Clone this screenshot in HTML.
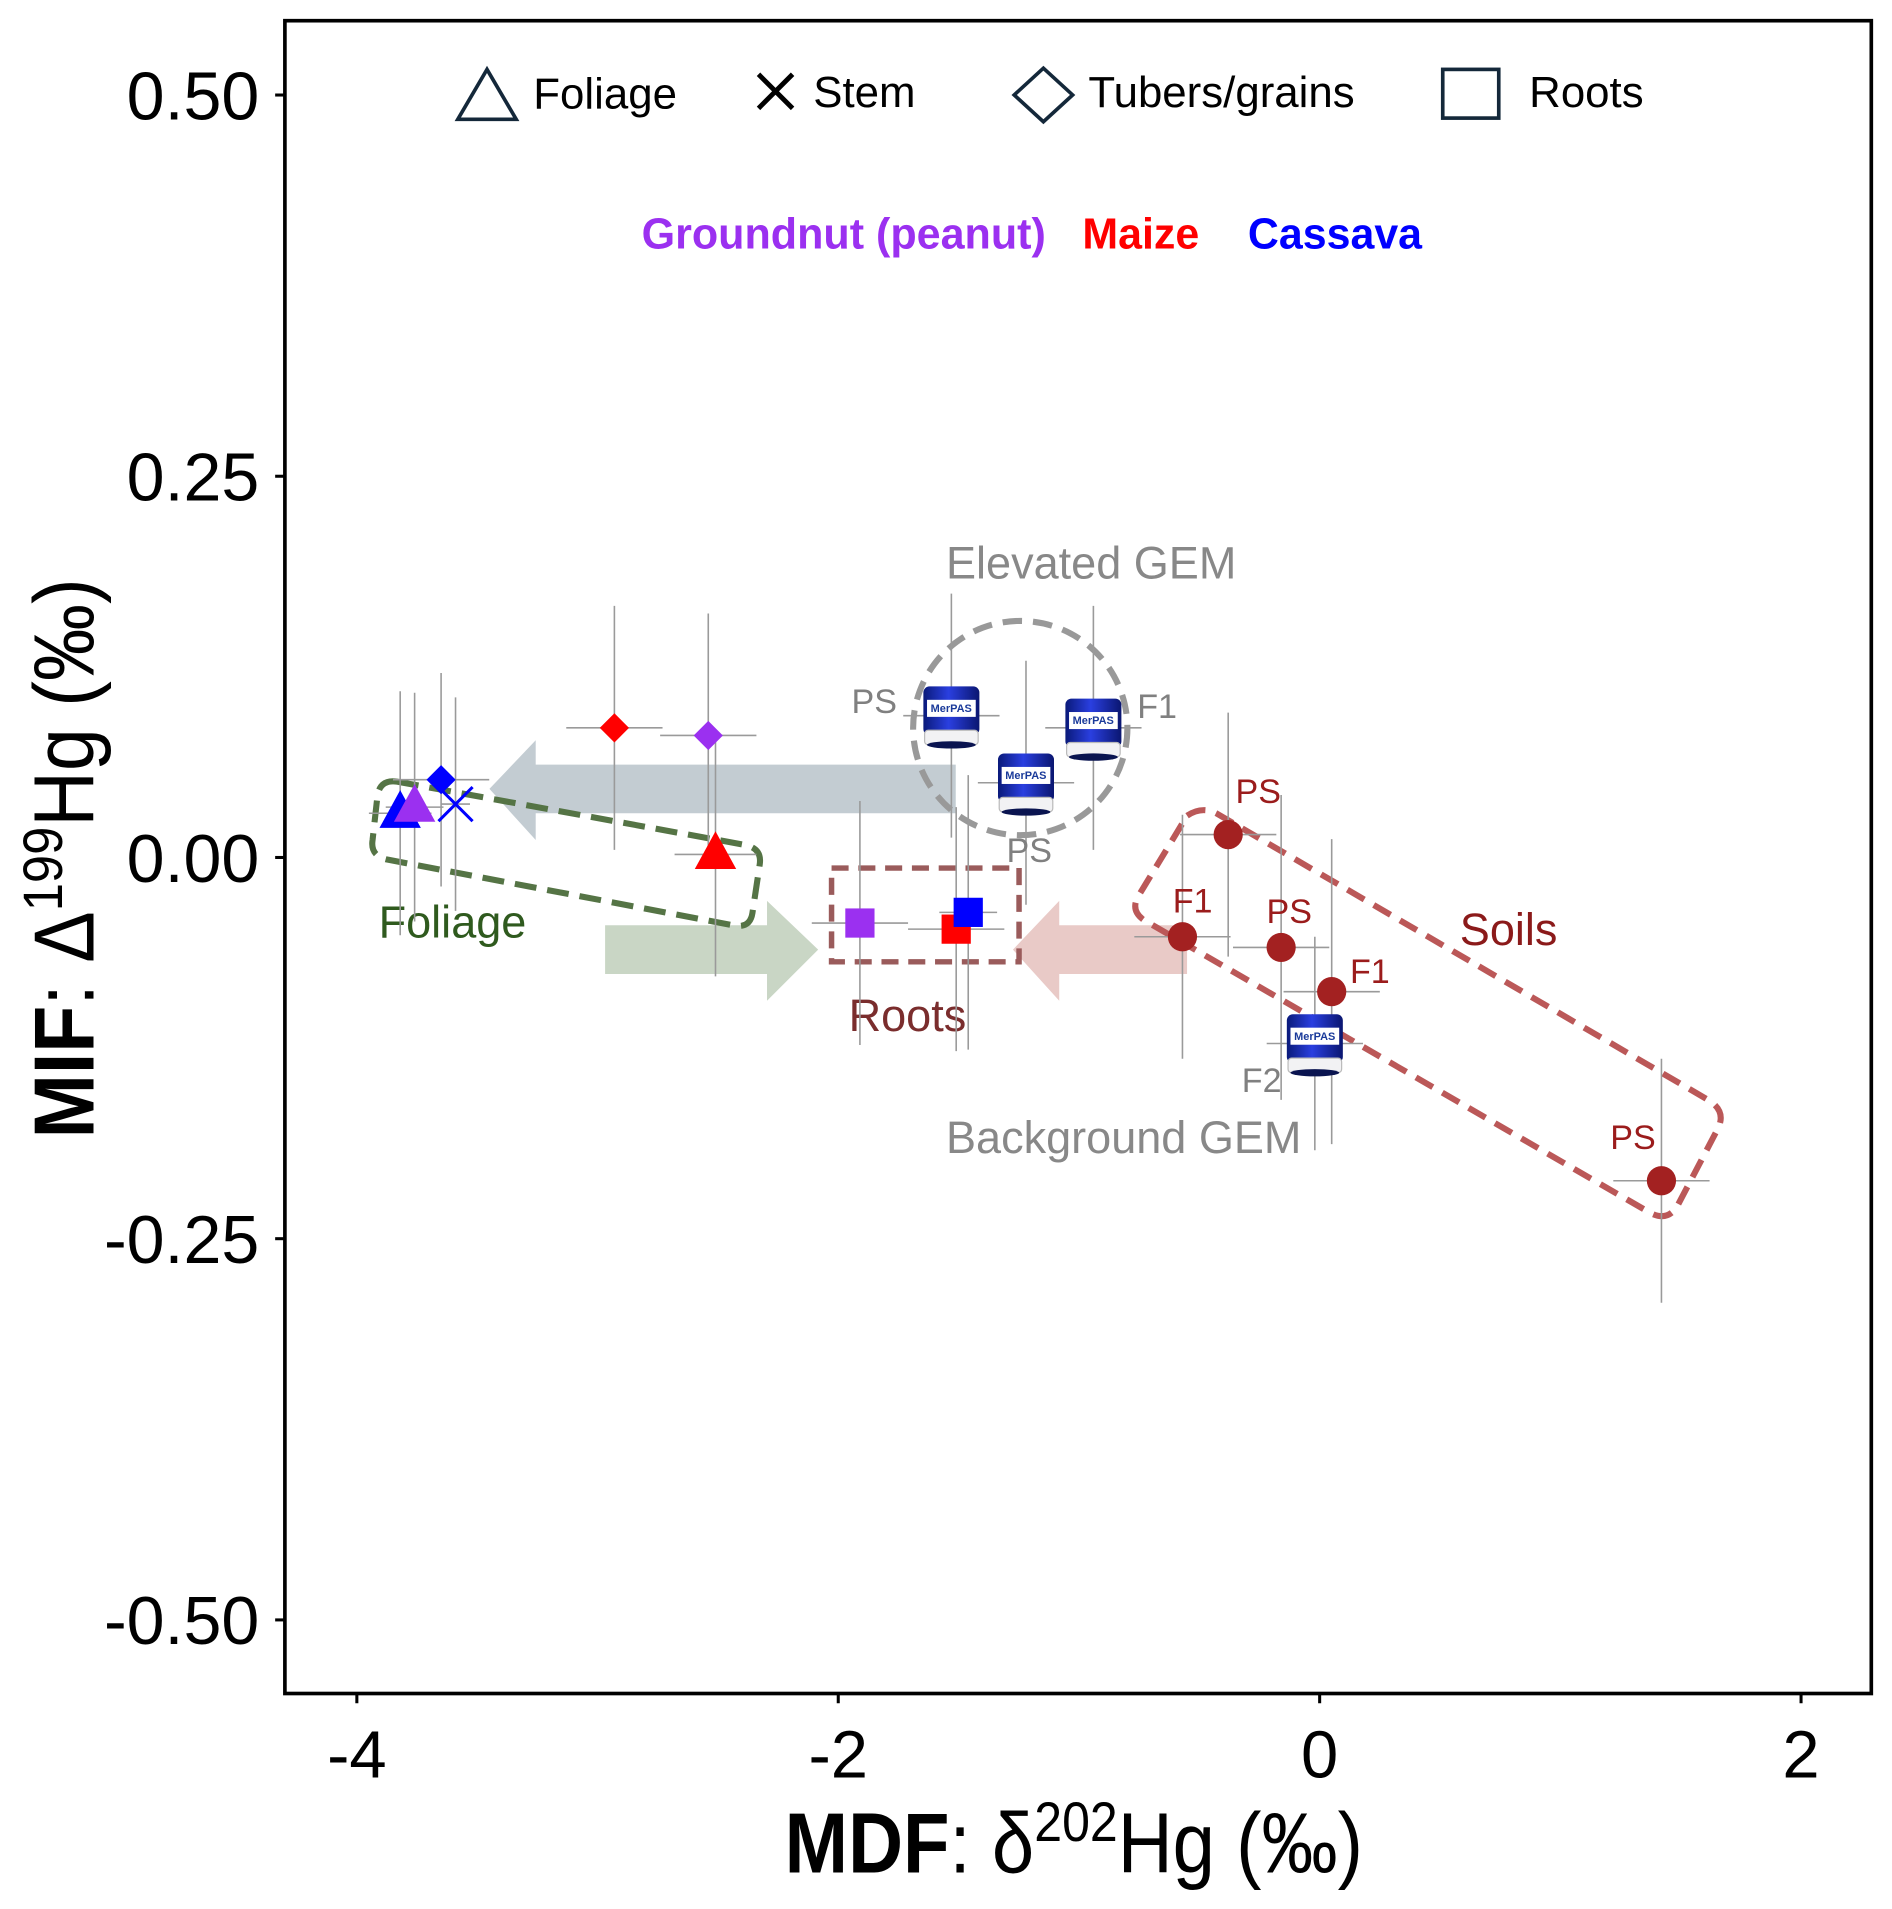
<!DOCTYPE html>
<html><head><meta charset="utf-8"><style>
html,body{margin:0;padding:0;background:#fff;}
svg{display:block;}
text{font-family:"Liberation Sans",sans-serif;}
</style></head><body>
<svg id="chart" width="1892" height="1909" viewBox="0 0 1554 1568" preserveAspectRatio="none" xmlns="http://www.w3.org/2000/svg">
<defs>
<linearGradient id="can" x1="0" x2="1" y1="0" y2="0">
<stop offset="0" stop-color="#0a1a7a"/><stop offset="0.45" stop-color="#2a3fe0"/><stop offset="1" stop-color="#0a1670"/>
</linearGradient>
</defs>
<rect x="0" y="0" width="1554" height="1568" fill="#fff"/>
<g id="decor">
<polygon points="785,628 440,628 440,608 402,648 440,690 440,668 785,668" fill="#c3ccd2"/>
<polygon points="497,760 630,760 630,740 672,780 630,822 630,800 497,800" fill="#c9d6c5"/>
<polygon points="975,760 870,760 870,740 832,780 870,822 870,800 975,800" fill="#e9cac7"/>
<path d="M326,642 L612,694 Q626,697 624,710 L618,750 Q616,763 602,760 L318,706 Q304,703 306,690 L310,654 Q312,640 326,642 Z" fill="none" stroke="#557445" stroke-width="5" stroke-dasharray="18 9"/>
<rect x="683" y="713" width="154" height="77" fill="none" stroke="#9a5b5b" stroke-width="4.5" stroke-dasharray="14 8"/>
<path d="M975,670 Q987,662 999,668 L1404,904 Q1418,913 1411,927 L1378,990 Q1370,1004 1355,996 L940,756 Q928,748 935,736 Z" fill="none" stroke="#bb5858" stroke-width="5" stroke-dasharray="16 9"/>
<circle cx="838" cy="598" r="88" fill="none" stroke="#999" stroke-width="5" stroke-dasharray="16 9"/>
<text x="311" y="770" font-size="37" fill="#2f5a1e">Foliage</text>
<text x="697" y="847" font-size="37" fill="#7a2d2d">Roots</text>
<text x="1199" y="776" font-size="37" fill="#8b1a1a">Soils</text>
<text x="777" y="475" font-size="37" fill="#888">Elevated GEM</text>
<text x="777" y="947" font-size="37" fill="#888">Background GEM</text>
</g>
<g id="marks"></g>
<g id="frame">
<rect x="234" y="17" width="1303" height="1374" fill="none" stroke="#000" stroke-width="3"/>
</g>
<g id="axes"></g>
<g id="legend">
<polygon points="400,57 376,98 424,98" fill="none" stroke="#14283a" stroke-width="3"/>
<text x="438" y="89" font-size="36">Foliage</text>
<path d="M623,61 L651,89 M651,61 L623,89" stroke="#000" stroke-width="4"/>
<text x="668" y="88" font-size="36">Stem</text>
<polygon points="857,56 881,78 857,100 833,78" fill="none" stroke="#14283a" stroke-width="3"/>
<text x="894" y="88" font-size="36">Tubers/grains</text>
<rect x="1185" y="57" width="46" height="40" fill="none" stroke="#14283a" stroke-width="3"/>
<text x="1256" y="88" font-size="36">Roots</text>
<text x="527" y="204" font-size="36" font-weight="bold" fill="#9b30f0" textLength="332" lengthAdjust="spacingAndGlyphs">Groundnut (peanut)</text>
<text x="889" y="204" font-size="36" font-weight="bold" fill="#ff0000" textLength="96" lengthAdjust="spacingAndGlyphs">Maize</text>
<text x="1025" y="204" font-size="36" font-weight="bold" fill="#0000ff" textLength="143" lengthAdjust="spacingAndGlyphs">Cassava</text>
</g>
<text x="882" y="1538" font-size="70" text-anchor="middle" textLength="475" lengthAdjust="spacingAndGlyphs"><tspan font-weight="bold">MDF</tspan>: δ<tspan font-size="46" dy="-26">202</tspan><tspan dy="26">Hg (‰)</tspan></text>
<text transform="translate(77,705) rotate(-90)" font-size="70" text-anchor="middle" textLength="460" lengthAdjust="spacingAndGlyphs"><tspan font-weight="bold">MIF</tspan>: Δ<tspan font-size="46" dy="-26">199</tspan><tspan dy="26">Hg (‰)</tspan></text>
</svg>
<script>
const plantNames = ["cassava-foliage","groundnut-foliage","cassava-stem","cassava-tuber","maize-tuber","groundnut-tuber","maize-foliage","groundnut-root","maize-root","cassava-root"];
const plantX = [-3.82,-3.76,-3.59,-3.65,-2.93,-2.54,-2.51,-1.91,-1.51,-1.46];
const plantY = [0.029,0.033,0.035,0.051,0.085,0.080,0.002,-0.043,-0.047,-0.036];
const plantXErr = [0.13,0.12,0.06,0.2,0.2,0.2,0.17,0.2,0.2,0.12];
const plantYErr = [0.08,0.075,0.07,0.07,0.08,0.08,0.08,0.08,0.08,0.09];
const plantShape = ["tri","tri","x","dia","dia","dia","tri","sq","sq","sq"];
const plantColor = ["#0000ff","#9b30f0","#0000ff","#0000ff","#ff0000","#9b30f0","#ff0000","#9b30f0","#ff0000","#0000ff"];
const soilX = [-0.38,-0.57,-0.16,0.05,1.42];
const soilY = [0.015,-0.052,-0.059,-0.088,-0.212];
const soilXErr = [0.2,0.2,0.2,0.2,0.2];
const soilYErr = [0.08,0.08,0.1,0.1,0.08];
const soilLabels = ["PS","F1","PS","F1","PS"];
const gemX = [-1.53,-0.94,-1.22,-0.02];
const gemY = [0.093,0.085,0.049,-0.122];
const gemXErr = [0.2,0.2,0.2,0.2];
const gemYErr = [0.08,0.08,0.08,0.07];
const gemLabels = ["PS","F1","PS","F2"];
const xTicks = [-4,-2,0,2];
const xTickLabels = ["-4","-2","0","2"];
const yTicks = [0.5,0.25,0,-0.25,-0.5];
const yTickLabels = ["0.50","0.25","0.00","-0.25","-0.50"];

function X(v){return 1083.9+v*197.7;}
function Y(v){return 704.3-v*1252.5;}
const NS="http://www.w3.org/2000/svg";
const marks=document.getElementById('marks');
const axes=document.getElementById('axes');
function mk(tag,attrs,parent){const e=document.createElementNS(NS,tag);for(const k in attrs)e.setAttribute(k,attrs[k]);parent.appendChild(e);return e;}
function errbars(x,y,xe,ye,g){
  mk('line',{x1:X(x-xe),x2:X(x+xe),y1:Y(y),y2:Y(y),stroke:'#9a9a9a','stroke-width':1.3},g);
  mk('line',{x1:X(x),x2:X(x),y1:Y(y+ye),y2:Y(y-ye),stroke:'#9a9a9a','stroke-width':1.3},g);
}
for(let i=0;i<plantX.length;i++){
  const g=mk('g',{},marks);
  
  
  errbars(plantX[i],plantY[i],plantXErr[i],plantYErr[i],g);
}
for(let i=0;i<soilX.length;i++){
  const g=mk('g',{},marks);
  
  
  errbars(soilX[i],soilY[i],soilXErr[i],soilYErr[i],g);
}
for(let i=0;i<gemX.length;i++){
  const g=mk('g',{},marks);
  
  
  errbars(gemX[i],gemY[i],gemXErr[i],gemYErr[i],g);
}
for(let i=0;i<plantX.length;i++){
  const cx=X(plantX[i]),cy=Y(plantY[i]),c=plantColor[i];let e;
  if(plantShape[i]==='tri'){e=mk('polygon',{points:`${cx},${cy-19} ${cx-17},${cy+12} ${cx+17},${cy+12}`,fill:c},marks);}
  else if(plantShape[i]==='dia'){e=mk('polygon',{points:`${cx},${cy-12} ${cx+12},${cy} ${cx},${cy+12} ${cx-12},${cy}`,fill:c},marks);}
  else if(plantShape[i]==='sq'){e=mk('rect',{x:cx-12,y:cy-12,width:24,height:24,fill:c},marks);}
  else {e=mk('path',{d:`M${cx-14},${cy-14}L${cx+14},${cy+14}M${cx+14},${cy-14}L${cx-14},${cy+14}`,stroke:c,'stroke-width':2.5,fill:'none'},marks);}
  
  
}
const soilLabelDx=[6,-8,-12,15,-42];
const soilLabelDy=[-26,-20,-20,-7,-26];
for(let i=0;i<soilX.length;i++){
  const c=mk('circle',{cx:X(soilX[i]),cy:Y(soilY[i]),r:12,fill:'#a32121'},marks);
  
  
  const t=mk('text',{x:X(soilX[i])+soilLabelDx[i],y:Y(soilY[i])+soilLabelDy[i],'font-size':28,fill:'#9b1c1c'},marks);
  t.textContent=soilLabels[i];
  
  
}
const gemLabelDx=[-82,36,-16,-60];
const gemLabelDy=[-2,-8,65,40];
for(let i=0;i<gemX.length;i++){
  const cx=X(gemX[i]),cy=Y(gemY[i]);
  const g=mk('g',{},marks);
  
  
  mk('rect',{x:cx-23,y:cy-24,width:46,height:40,rx:5,fill:'url(#can)'},g);
  mk('rect',{x:cx-22,y:cy+12,width:44,height:12,rx:3,fill:'#f2f2f4',stroke:'#bbb','stroke-width':1},g);
  mk('ellipse',{cx:cx,cy:cy+24,rx:20,ry:3,fill:'#0a1450'},g);
  mk('rect',{x:cx-20,y:cy-13,width:40,height:14,fill:'#fff'},g);
  const lt=mk('text',{x:cx-17,y:cy-3,'font-size':9,'font-weight':'bold',fill:'#1a3a9a'},g);
  lt.textContent='MerPAS';
  const t=mk('text',{x:cx+gemLabelDx[i],y:cy+gemLabelDy[i],'font-size':28,fill:'#808080'},marks);
  t.textContent=gemLabels[i];
  
  
}
for(let i=0;i<xTicks.length;i++){
  const l=mk('line',{x1:X(xTicks[i]),x2:X(xTicks[i]),y1:1391,y2:1399,stroke:'#000','stroke-width':2.5},axes);
  
  
  const t=mk('text',{x:X(xTicks[i]),y:1460,'font-size':55,'text-anchor':'middle'},axes);
  t.textContent=xTickLabels[i];
  
  
}
for(let i=0;i<yTicks.length;i++){
  const l=mk('line',{x1:226,x2:234,y1:Y(yTicks[i]),y2:Y(yTicks[i]),stroke:'#000','stroke-width':2.5},axes);
  
  
  const t=mk('text',{x:213,y:Y(yTicks[i])+20,'font-size':56,'text-anchor':'end'},axes);
  t.textContent=yTickLabels[i];
  
  
}
</script>
</body></html>
